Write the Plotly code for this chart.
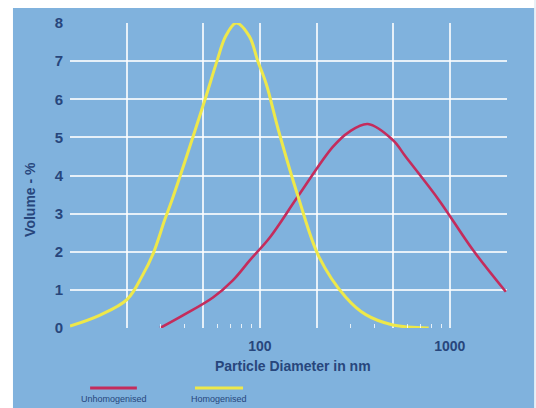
import plotly.graph_objects as go

# Homogenised (yellow)
homo_d = [10, 14.4, 20, 24.2, 27.4, 31.6, 34.4, 50.7, 59.4, 66, 75, 88, 97.5, 108, 125, 160, 205, 284, 361, 501, 774]
homo_v = [0.05, 0.34, 0.75, 1.4, 1.95, 2.85, 3.35, 5.9, 7.0, 7.65, 8.0, 7.65, 7.0, 6.4, 5.2, 3.4, 1.86, 0.8, 0.35, 0.08, 0.0]

# Unhomogenised (red)
unh_d = [29.8, 39.3, 56.6, 72, 88.6, 113, 158, 242, 294, 370, 501, 586, 875, 1321, 1972]
unh_v = [0.0, 0.33, 0.8, 1.25, 1.78, 2.38, 3.44, 4.75, 5.14, 5.35, 4.93, 4.49, 3.36, 2.05, 0.95]

x_grid = [10, 20, 50, 100, 200, 500, 1000, 2000]
x_text = ["", "", "", "100", "", "", "1000", ""]
x_minor = [30, 40, 60, 70, 80, 90, 300, 400, 600, 700, 800, 900]
y_ticks = [0, 1, 2, 3, 4, 5, 6, 7, 8]

BLUE = "#80b2dd"
INK = "#27467c"
GRID = "rgba(255,255,255,0.8)"

fig = go.Figure()
fig.add_trace(go.Scatter(x=unh_d, y=unh_v, mode="lines", name="Unhomogenised",
                         line=dict(color="#c42c5c", width=2.6, shape="spline", smoothing=1.0)))
fig.add_trace(go.Scatter(x=homo_d, y=homo_v, mode="lines", name="Homogenised",
                         line=dict(color="#eee84a", width=3, shape="spline", smoothing=1.0)))

fig.update_xaxes(type="log", range=[1, 3.301], tickvals=x_grid, ticktext=x_text,
                 showgrid=True, gridcolor=GRID, gridwidth=1.5, zeroline=False,
                 showline=False, ticks="", ticklabelstandoff=8,
                 tickfont=dict(family="Liberation Sans", size=14, color=INK, weight="bold"),
                 minor=dict(tickvals=x_minor, ticks="inside", ticklen=4, tickcolor="rgba(255,255,255,0.8)",
                            showgrid=False))
fig.update_yaxes(range=[0, 8], tickvals=y_ticks, showgrid=True, gridcolor=GRID, gridwidth=1.5,
                 zeroline=False, showline=False, ticks="", ticklabelstandoff=6,
                 tickfont=dict(family="Liberation Sans", size=15, color=INK, weight="bold"))

shapes = [
    dict(type="rect", xref="paper", yref="paper", x0=-0.3, x1=-0.1305, y0=-0.3, y1=1.2,
         fillcolor="white", line_width=0, layer="above"),
    dict(type="rect", xref="paper", yref="paper", x0=-0.3, x1=1.2, y0=1.049, y1=1.2,
         fillcolor="white", line_width=0, layer="above"),
    dict(type="rect", xref="paper", yref="paper", x0=1.062, x1=1.2, y0=-0.3, y1=1.2,
         fillcolor="#e8f0f6", line_width=0, layer="above"),
    dict(type="line", xref="paper", yref="paper", x0=0.046, x1=0.153, y0=-0.197, y1=-0.197,
         line=dict(color="#c42c5c", width=3)),
    dict(type="line", xref="paper", yref="paper", x0=0.286, x1=0.396, y0=-0.197, y1=-0.197,
         line=dict(color="#eee84a", width=3)),
]

annotations = [
    dict(text="Volume - %", xref="paper", yref="paper", x=-0.0915, y=0.42, textangle=-90,
         showarrow=False, xanchor="center", yanchor="middle",
         font=dict(family="Liberation Sans", size=14, color=INK, weight="bold")),
    dict(text="Particle Diameter in nm", xref="paper", yref="paper", x=0.51, y=-0.125,
         showarrow=False, xanchor="center", yanchor="middle",
         font=dict(family="Liberation Sans", size=14, color=INK, weight="bold")),
    dict(text="Unhomogenised", xref="paper", yref="paper", x=0.1, y=-0.232,
         showarrow=False, xanchor="center", yanchor="middle",
         font=dict(family="Liberation Sans", size=9, color=INK)),
    dict(text="Homogenised", xref="paper", yref="paper", x=0.341, y=-0.232,
         showarrow=False, xanchor="center", yanchor="middle",
         font=dict(family="Liberation Sans", size=9, color=INK)),
]

fig.update_layout(width=536, height=408, margin=dict(l=70, r=29, t=23, b=80),
                  paper_bgcolor=BLUE, plot_bgcolor=BLUE, showlegend=False,
                  shapes=shapes, annotations=annotations)

fig.write_html("out.html", config={"displayModeBar": False},
               post_script="document.body.style.margin='0';")
